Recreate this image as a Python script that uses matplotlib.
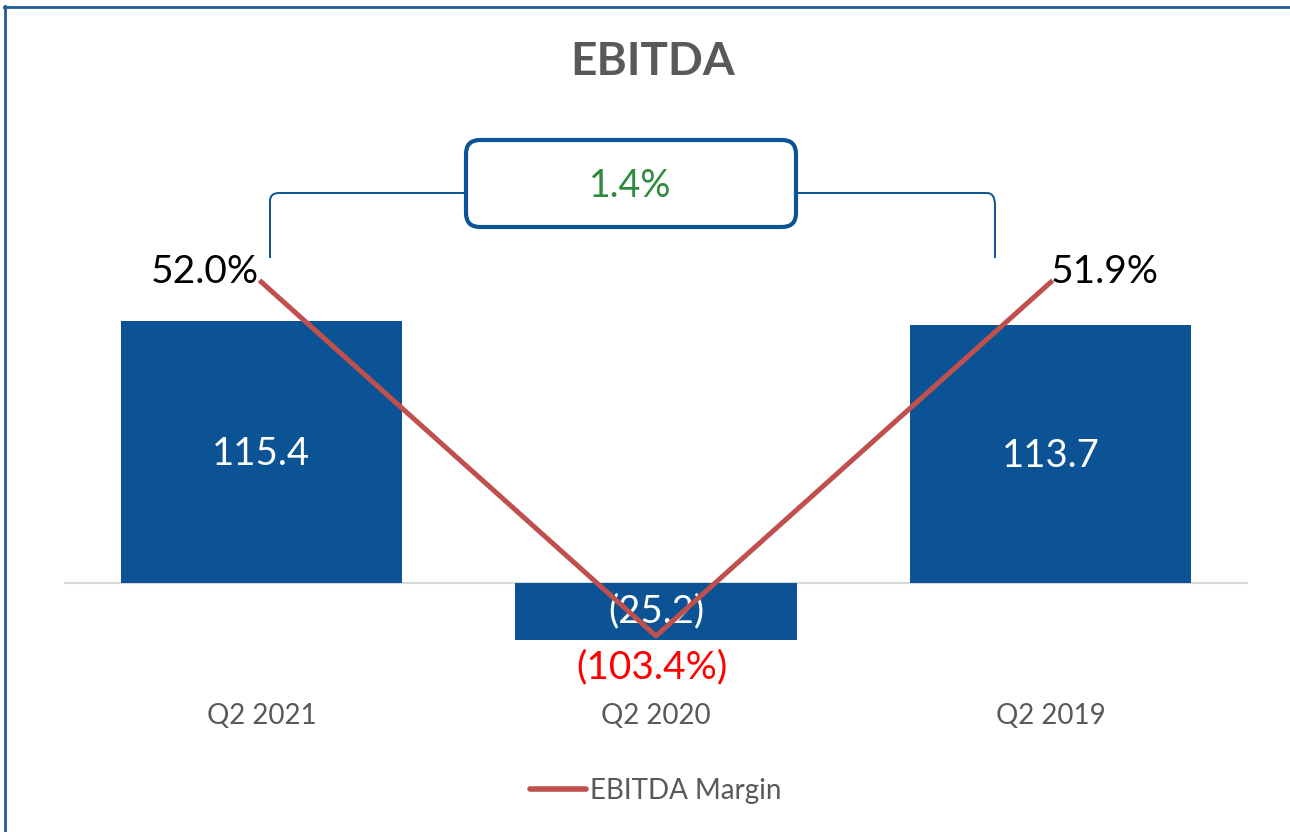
import matplotlib
matplotlib.use("Agg")
import matplotlib.pyplot as plt
from matplotlib.patches import FancyBboxPatch, PathPatch
from matplotlib.path import Path
from matplotlib.lines import Line2D
from matplotlib.transforms import IdentityTransform, blended_transform_factory

# data
quarters = ["Q2 2021", "Q2 2020", "Q2 2019"]
ebitda = [115.4, -25.2, 113.7]
margin = [52.0, -103.4, 51.9]
bar_labels = ["115.4", "(25.2)", "113.7"]
margin_labels = ["52.0%", "(103.4%)", "51.9%"]
change_label = "1.4%"

BLUE = "#0B5394"
RED_LINE = "#C0504D"
GREY_TXT = "#595959"

plt.rcParams['font.family'] = ['Lato', 'DejaVu Sans']

W, H = 1290, 832
fig = plt.figure(figsize=(W / 100, H / 100), dpi=100)
px = IdentityTransform()  # display pixels, origin bottom-left


def fy(y):
    # convert a top-origin pixel row into display coords
    return H - y


# axes placed in pixels: x 64..1248, y 100..700 (from top)
ax = fig.add_axes([64 / W, 1 - 700 / H, (1248 - 64) / W, 600 / H])
x = range(len(quarters))
ax.bar(x, ebitda, width=0.713, color=BLUE, zorder=2)
ax.axhline(0, color="#D9D9D9", lw=1.5, zorder=1)
ax.set_xlim(-0.5, 2.5)
ax.set_ylim(-51.5, 212.8)
ax.axis("off")

for i, v in enumerate(ebitda):
    ax.text(i, v / 2 + (-1 if v > 0 else 0), bar_labels[i], ha="center", va="center",
            color="white", fontsize=27.5, zorder=5)

# category labels under the chart
tr = blended_transform_factory(ax.transData, fig.transFigure)
for i, q in enumerate(quarters):
    ax.text(i, 1 - 716 / H, q, transform=tr, ha="center", va="center",
            color=GREY_TXT, fontsize=20)

# margin line on secondary axis
ax2 = ax.twinx()
ax2.set_ylim(-131.5, 131.9)
ax2.axis("off")
line, = ax2.plot(x, margin, color=RED_LINE, lw=3.6, zorder=4, label="EBITDA Margin")

offsets = [(-2, 10, "right"), (-4, -31, "center"), (0, 10, "left")]
colors = ["black", "#FF0000", "black"]
for i, m in enumerate(margin):
    dx, dy, ha = offsets[i]
    ax2.annotate(margin_labels[i], (i, m), xytext=(dx, dy), textcoords="offset pixels",
                 ha=ha, va="center", fontsize=28, color=colors[i])

# title
fig.text(653 / W, 1 - 62 / H, "EBITDA", ha="center", va="center",
         fontsize=33, fontweight="bold", color=GREY_TXT)

# bracket connecting the two margins
verts = [(270, fy(258)), (270, fy(201)), (270, fy(193)), (279, fy(193)), (465, fy(193))]
codes = [Path.MOVETO, Path.LINETO, Path.CURVE3, Path.CURVE3, Path.LINETO]
fig.patches.append(PathPatch(Path(verts, codes), transform=px, fill=False,
                             edgecolor=BLUE, lw=1.4))
verts = [(797, fy(193)), (987, fy(193)), (995, fy(193)), (995, fy(205)), (995, fy(258))]
fig.patches.append(PathPatch(Path(verts, codes), transform=px, fill=False,
                             edgecolor=BLUE, lw=1.4))

box = FancyBboxPatch((466, fy(227)), 330, 87, boxstyle="round,pad=0,rounding_size=14",
                     transform=px, facecolor="white", edgecolor=BLUE, lw=3)
fig.patches.append(box)
fig.text(630 / W, 1 - 186 / H, change_label, ha="center", va="center",
         fontsize=27, color="#2E8B3E")

# legend
leg = fig.legend(handles=[Line2D([], [], color=RED_LINE, lw=4, solid_capstyle="round")],
                 labels=["EBITDA Margin"], loc="center", bbox_to_anchor=(656 / W, 1 - 791 / H),
                 frameon=False, fontsize=20, handlelength=2.0, handletextpad=0.15)
for t in leg.get_texts():
    t.set_color(GREY_TXT)

# frame: top and left edges only
fig.lines.append(Line2D([4, W], [fy(6.5), fy(6.5)], transform=px, color="#1F5C99", lw=2))
fig.lines.append(Line2D([5, 5], [fy(6), 0], transform=px, color="#1F5C99", lw=2))

fig.savefig("out.png", dpi=100)
